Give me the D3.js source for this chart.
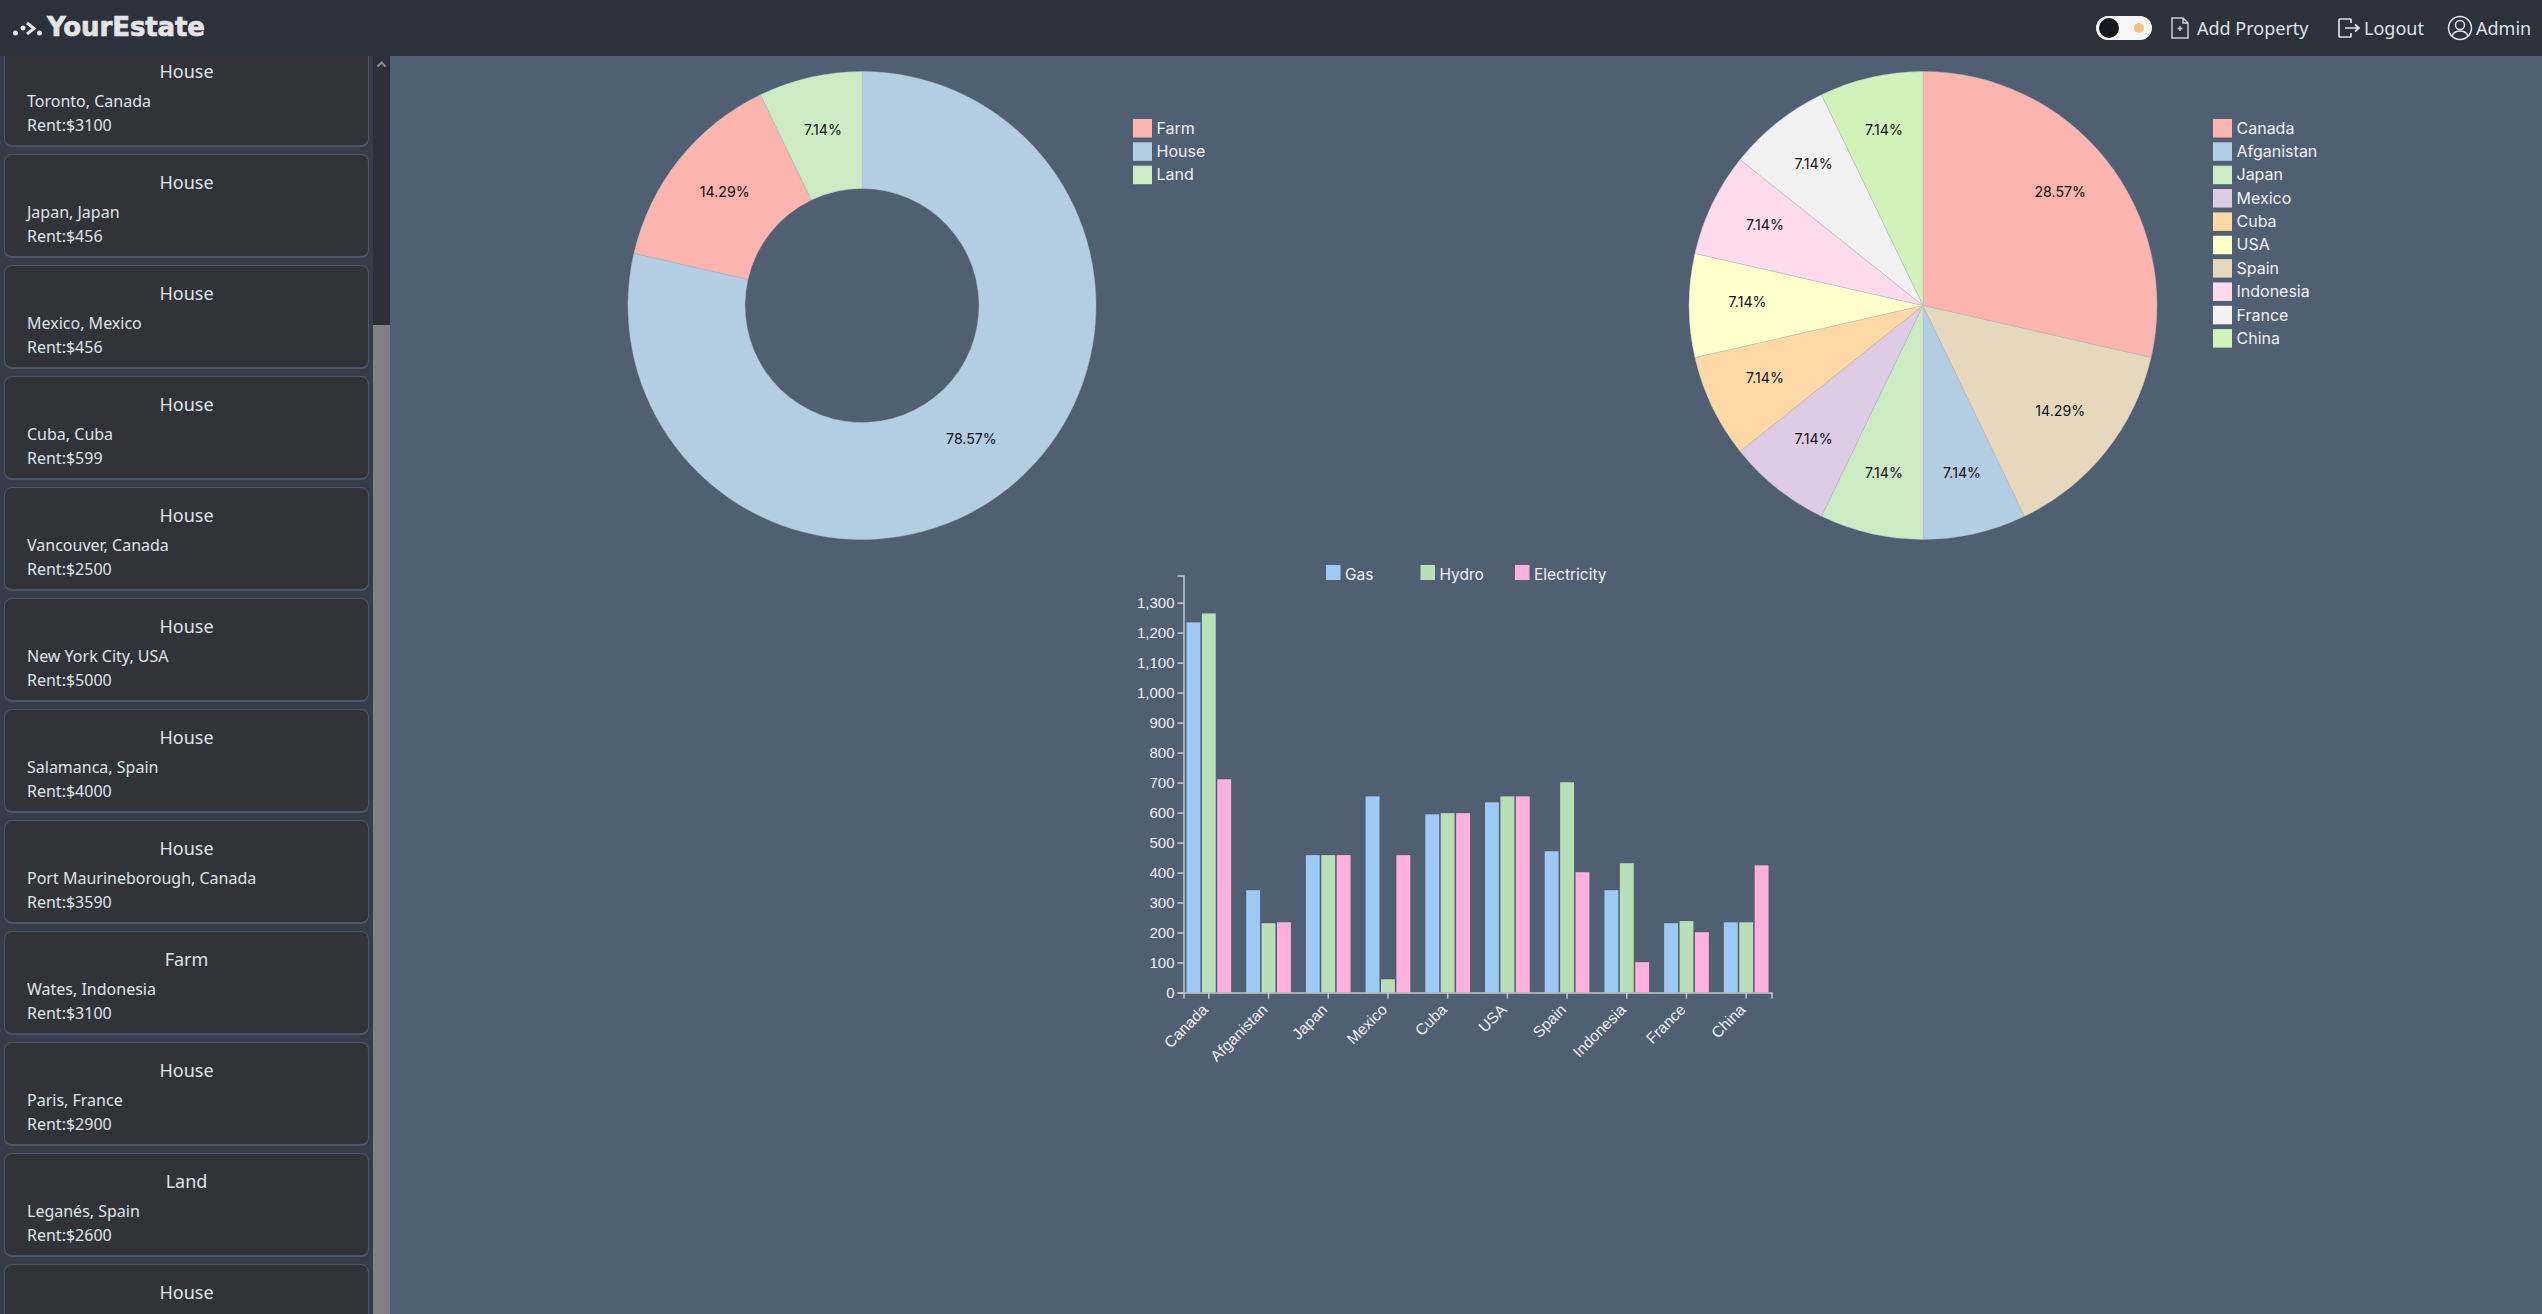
<!DOCTYPE html>
<html>
<head>
<meta charset="utf-8">
<title>YourEstate</title>
<script src="https://cdn.jsdelivr.net/npm/d3@7"></script>
<style>
  html, body { margin: 0; height: 100%; overflow: hidden; background: #505f72; font-family: "Noto Sans", sans-serif; }
  #charts { position: absolute; left: 0; top: 0; }
  #navbar { position: absolute; left: 0; top: 0; width: 2542px; height: 56px; background: #2d313b; color: #dce3ea; }
  #navbar span, #navbar svg { position: absolute; }
  #navbar span { font-size: 18px; top: 15px; line-height: 26px; }
  #logo { left: 47px; top: 9px !important; font-family: "DejaVu Sans", sans-serif; font-weight: 700; font-size: 26px !important; line-height: 36px !important; letter-spacing: -0.1px; color: #e4e4e4; -webkit-text-stroke: 0.7px #e4e4e4; }
  #sidebar { position: absolute; left: 0; top: 56px; width: 373px; height: 1258px; background: #383c48; overflow: hidden; }
  .card { position: absolute; left: 4px; width: 363px; height: 100.5px; background: #323339; border: 1px solid #4b566a; border-bottom-width: 2px; border-radius: 8px; color: #dfe3e8; }
  .card .title { position: absolute; left: 0; right: 0; top: 13.5px; text-align: center; font-size: 18px; line-height: 26px; }
  .card .line { position: absolute; left: 22px; font-size: 16px; line-height: 24px; }
  #track { position: absolute; left: 373px; top: 56px; width: 17px; height: 269px; background: #2c303a; }
  #thumb { position: absolute; left: 373px; top: 325px; width: 17px; height: 989px; background: #808186; }
  #arrow { position: absolute; left: 373px; top: 56px; }
  svg text { font-family: Inter, sans-serif; }
  .axis text { font-family: "Liberation Sans", Arial, sans-serif; font-size: 15px; fill: #eceef0; }
  .axis path, .axis line { stroke: #c4c8ce; stroke-width: 1.5; }
</style>
</head>
<body>
<svg id="charts" width="2542" height="1314"></svg>

<div id="sidebar"></div>
<div id="track"></div>
<div id="thumb"></div>
<svg id="arrow" width="17" height="17"><path d="M4.5 10.5 L8.5 6.5 L12.5 10.5" fill="none" stroke="#8b8d92" stroke-width="2"/></svg>

<div id="navbar">
  <svg style="left:13px;top:17px" width="30" height="22" fill="#e4e4e4">
    <circle cx="2.5" cy="16" r="2.5"/><circle cx="10" cy="11" r="2.5"/><circle cx="26.5" cy="16" r="2.5"/>
    <path d="M14 6 L21 11.5 L14 17 M14 6" fill="none" stroke="#e4e4e4" stroke-width="3"/>
  </svg>
  <span id="logo">YourEstate</span>

  <svg style="left:2096px;top:16px" width="56" height="24">
    <rect width="56" height="24" rx="12" fill="#f6f6f6"/>
    <circle cx="13" cy="12" r="10" fill="#17181d"/>
    <circle cx="43" cy="12" r="5" fill="#f6bf85"/>
  </svg>

  <svg style="left:2171px;top:17px" width="18" height="22" fill="none" stroke="#c9ced4" stroke-width="1.5">
    <path d="M1 1 H12 L17 6 V21 H1 Z M12 1 V6 H17"/><path d="M9 9 V14 M6.5 11.5 H11.5"/>
  </svg>
  <span style="left:2197px">Add Property</span>

  <svg style="left:2338px;top:18px" width="23" height="20" fill="none" stroke="#dce3ea" stroke-width="1.7">
    <path d="M13 5 V2 Q13 1 12 1 H2 Q1 1 1 2 V18 Q1 19 2 19 H12 Q13 19 13 18 V15"/><path d="M7 10 H21 M17 6.5 L21 10 L17 13.5"/>
  </svg>
  <span style="left:2364px">Logout</span>

  <svg style="left:2447px;top:15px" width="26" height="26" fill="none" stroke="#dce3ea" stroke-width="1.5">
    <circle cx="13" cy="13" r="11.5"/><circle cx="13" cy="10" r="4.5"/><path d="M5 21 Q7 16 13 16 Q19 16 21 21"/>
  </svg>
  <span style="left:2476px">Admin</span>
</div>

<script>
  // properties listed in the side panel
  const properties = [
    { type: "House", place: "Toronto, Canada", rent: 3100 },
    { type: "House", place: "Japan, Japan", rent: 456 },
    { type: "House", place: "Mexico, Mexico", rent: 456 },
    { type: "House", place: "Cuba, Cuba", rent: 599 },
    { type: "House", place: "Vancouver, Canada", rent: 2500 },
    { type: "House", place: "New York City, USA", rent: 5000 },
    { type: "House", place: "Salamanca, Spain", rent: 4000 },
    { type: "House", place: "Port Maurineborough, Canada", rent: 3590 },
    { type: "Farm", place: "Wates, Indonesia", rent: 3100 },
    { type: "House", place: "Paris, France", rent: 2900 },
    { type: "Land", place: "Leganés, Spain", rent: 2600 },
    { type: "House", place: "", rent: null },
  ];

  const typeCounts = [
    { label: "Farm", value: 2 },
    { label: "House", value: 11 },
    { label: "Land", value: 1 },
  ];

  const countryCounts = [
    { label: "Canada", value: 4 },
    { label: "Afganistan", value: 1 },
    { label: "Japan", value: 1 },
    { label: "Mexico", value: 1 },
    { label: "Cuba", value: 1 },
    { label: "USA", value: 1 },
    { label: "Spain", value: 2 },
    { label: "Indonesia", value: 1 },
    { label: "France", value: 1 },
    { label: "China", value: 1 },
  ];

  const utilities = [
    { country: "Canada", Gas: 1234, Hydro: 1264, Electricity: 711 },
    { country: "Afganistan", Gas: 341, Hydro: 231, Electricity: 234 },
    { country: "Japan", Gas: 458, Hydro: 458, Electricity: 458 },
    { country: "Mexico", Gas: 654, Hydro: 44, Electricity: 458 },
    { country: "Cuba", Gas: 594, Hydro: 598, Electricity: 598 },
    { country: "USA", Gas: 634, Hydro: 654, Electricity: 654 },
    { country: "Spain", Gas: 471, Hydro: 701, Electricity: 401 },
    { country: "Indonesia", Gas: 341, Hydro: 431, Electricity: 101 },
    { country: "France", Gas: 231, Hydro: 238, Electricity: 201 },
    { country: "China", Gas: 234, Hydro: 234, Electricity: 424 },
  ];

  // side panel
  const cards = d3.select("#sidebar")
    .selectAll(".card")
    .data(properties)
    .enter()
    .append("div")
    .attr("class", "card")
    .style("top", (d, i) => -13 + i * 111 + "px");
  cards.append("div").attr("class", "title").text((d) => d.type);
  cards.filter((d) => d.place).append("div").attr("class", "line").style("top", "44.5px").text((d) => d.place);
  cards.filter((d) => d.place).append("div").attr("class", "line").style("top", "68.5px").text((d) => "Rent:$" + d.rent);

  const svg = d3.select("#charts");
  const pieColors = [...d3.schemePastel1, "#d1f2b8"];

  function drawPie(data, cx, cy, innerRadius, legendX) {
    const outerRadius = 234;
    const color = d3.scaleOrdinal().domain(data.map((d) => d.label)).range(pieColors);
    const total = d3.sum(data, (d) => d.value);
    const arc = d3.arc().innerRadius(innerRadius).outerRadius(outerRadius);
    // labels sit half way out, also on the full pie
    const labelArc = d3.arc().innerRadius(117).outerRadius(234);
    const g = svg.append("g").attr("transform", `translate(${cx},${cy})`);
    const slices = d3.pie().value((d) => d.value)(data);

    g.selectAll("path")
      .data(slices)
      .enter()
      .append("path")
      .attr("d", arc)
      .attr("fill", (d) => color(d.data.label))
      .attr("stroke", "#b4bac2")
      .attr("stroke-width", 0.4);

    g.selectAll("text")
      .data(slices)
      .enter()
      .append("text")
      .attr("transform", (d) => `translate(${labelArc.centroid(d)})`)
      .attr("dy", 1)
      .style("text-anchor", "middle")
      .style("font-size", "14.2px")
      .style("fill", "#111")
      .text((d) => ((d.data.value / total) * 100).toFixed(2) + "%");

    const legend = svg.selectAll(null)
      .data(data)
      .enter()
      .append("g")
      .attr("transform", (d, i) => `translate(${legendX},${119 + i * 23.35})`);
    legend.append("rect")
      .attr("width", 19)
      .attr("height", 18.5)
      .attr("fill", (d) => color(d.label));
    legend.append("text")
      .attr("x", 23.5)
      .attr("y", 14.7)
      .style("font-size", "16px")
      .style("fill", "#eef0f2")
      .text((d) => d.label);
  }

  drawPie(typeCounts, 862, 305.5, 117, 1133);
  drawPie(countryCounts, 1923, 305.5, 0, 2213);

  // grouped bars
  const groups = ["Gas", "Hydro", "Electricity"];
  const barColors = d3.scaleOrdinal().domain(groups).range(["#9fc9f5", "#b8dfb8", "#ffb0de"]);
  const left = 1183.5, bottom = 992.5, width = 588, height = 417;

  const x = d3.scaleBand()
    .domain(utilities.map((d) => d.country))
    .range([0, width])
    .paddingInner(0.2)
    .paddingOuter(0.024);
  const xGroup = d3.scaleBand()
    .domain(groups)
    .range([0, x.bandwidth()])
    .padding(0.1);
  const y = d3.scaleLinear()
    .domain([0, 1.1 * d3.max(utilities, (d) => d3.max(groups, (k) => d[k]))])
    .range([0, -height]);

  const chart = svg.append("g").attr("transform", `translate(${left},${bottom})`);

  chart.selectAll(".group")
    .data(utilities)
    .enter()
    .append("g")
    .attr("class", "group")
    .attr("transform", (d) => `translate(${x(d.country)},0)`)
    .selectAll("rect")
    .data((d) => groups.map((key) => ({ key, value: d[key] })))
    .enter()
    .append("rect")
    .attr("x", (d) => xGroup(d.key))
    .attr("y", (d) => y(d.value))
    .attr("width", xGroup.bandwidth())
    .attr("height", (d) => -y(d.value))
    .attr("fill", (d) => barColors(d.key));

  chart.append("g")
    .attr("class", "axis")
    .call(d3.axisLeft(y).ticks(13).tickFormat(d3.format(",")));

  chart.append("g")
    .attr("class", "axis")
    .call(d3.axisBottom(x))
    .selectAll("text")
    .attr("transform", "translate(-14,4)rotate(-45)")
    .style("text-anchor", "end")
    .style("font-size", "15.5px");

  const barLegend = svg.selectAll(null)
    .data(groups)
    .enter()
    .append("g")
    .attr("transform", (d, i) => `translate(${1326 + i * 94.5},565)`);
  barLegend.append("rect")
    .attr("width", 14.5)
    .attr("height", 15)
    .attr("fill", (d) => barColors(d));
  barLegend.append("text")
    .attr("x", 19)
    .attr("y", 15)
    .style("font-size", "15.5px")
    .style("fill", "#eef0f2")
    .text((d) => d);
</script>
</body>
</html>
